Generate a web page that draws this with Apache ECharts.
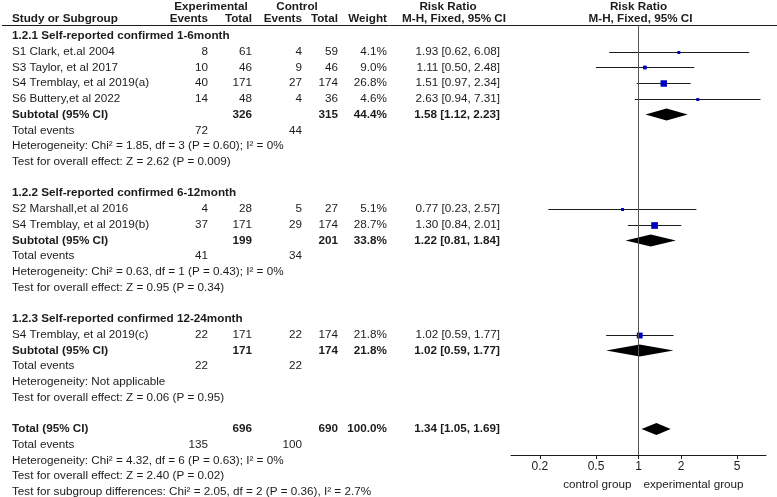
<!doctype html>
<html lang="en">
<head>
<meta charset="utf-8">
<title>Forest plot</title>
<script src="https://cdn.jsdelivr.net/npm/echarts@6/dist/echarts.min.js"></script>
<style>
  html, body { margin: 0; padding: 0; background: #fff; }
  #main { width: 777px; height: 497px; }
</style>
</head>
<body>
<div id="main"></div>
<script>
// ---- data ----
var groupNames = ['1.2.1 Self-reported confirmed 1-6month',
                  '1.2.2 Self-reported confirmed 6-12month',
                  '1.2.3 Self-reported confirmed 12-24month'];
var groupSize = [4, 2, 1];

var studies = ['S1 Clark, et.al 2004', 'S3 Taylor, et al 2017', 'S4 Tremblay, et al 2019(a)',
               'S6 Buttery,et al 2022', 'S2 Marshall,et al 2016', 'S4 Tremblay, et al 2019(b)',
               'S4 Tremblay, et al 2019(c)'];
var expEvents  = [8, 10, 40, 14, 4, 37, 22];
var expTotal   = [61, 46, 171, 48, 28, 171, 171];
var ctrlEvents = [4, 9, 27, 4, 5, 29, 22];
var ctrlTotal  = [59, 46, 174, 36, 27, 174, 174];
var weights    = [4.1, 9.0, 26.8, 4.6, 5.1, 28.7, 21.8];
var rr   = [1.93, 1.11, 1.51, 2.63, 0.77, 1.30, 1.02];
var rrLo = [0.62, 0.50, 0.97, 0.94, 0.23, 0.84, 0.59];
var rrHi = [6.08, 2.48, 2.34, 7.31, 2.57, 2.01, 1.77];

var subExpTotal  = [326, 199, 171];
var subCtrlTotal = [315, 201, 174];
var subWeight    = [44.4, 33.8, 21.8];
var subRR   = [1.58, 1.22, 1.02];
var subLo   = [1.12, 0.81, 0.59];
var subHi   = [2.23, 1.84, 1.77];
var subExpEvents  = [72, 41, 22];
var subCtrlEvents = [44, 34, 22];
var subHetero = ['Heterogeneity: Chi² = 1.85, df = 3 (P = 0.60); I² = 0%',
                 'Heterogeneity: Chi² = 0.63, df = 1 (P = 0.43); I² = 0%',
                 'Heterogeneity: Not applicable'];
var subEffect = ['Test for overall effect: Z = 2.62 (P = 0.009)',
                 'Test for overall effect: Z = 0.95 (P = 0.34)',
                 'Test for overall effect: Z = 0.06 (P = 0.95)'];

var totExpTotal = 696, totCtrlTotal = 690, totWeight = 100.0;
var totRR = 1.34, totLo = 1.05, totHi = 1.69;
var totExpEvents = 135, totCtrlEvents = 100;
var totNotes = ['Heterogeneity: Chi² = 4.32, df = 6 (P = 0.63); I² = 0%',
                'Test for overall effect: Z = 2.40 (P = 0.02)',
                'Test for subgroup differences: Chi² = 2.05, df = 2 (P = 0.36), I² = 2.7%'];

var tickValues = [0.2, 0.5, 1, 2, 5];
var axisRange = [0.125, 8];

// ---- helpers ----
function lg(v) { return Math.log(v) / Math.LN10; }
function ci(m, a, b) { return m.toFixed(2) + ' [' + a.toFixed(2) + ', ' + b.toFixed(2) + ']'; }

var FONT = '"Liberation Sans", Arial, sans-serif';
var INK = '#1c1c1c';
var FS = 11.7;

// columns (right edges unless noted)
var COL = { name: 12, ee: 208, et: 252, ce: 302, ct: 338, w: 387, rr: 500 };

// build the table rows
var rows = [];
var studyData = [];
var diamondData = [];
var r = 0, s = 0;
groupNames.forEach(function (g, gi) {
    rows.push({ row: r, cells: [{ x: COL.name, text: g, bold: true }] });
    r++;
    for (var k = 0; k < groupSize[gi]; k++, s++, r++) {
        rows.push({ row: r, cells: [
            { x: COL.name, text: studies[s] },
            { x: COL.ee, text: String(expEvents[s]), align: 'right' },
            { x: COL.et, text: String(expTotal[s]), align: 'right' },
            { x: COL.ce, text: String(ctrlEvents[s]), align: 'right' },
            { x: COL.ct, text: String(ctrlTotal[s]), align: 'right' },
            { x: COL.w, text: weights[s].toFixed(1) + '%', align: 'right' },
            { x: COL.rr, text: ci(rr[s], rrLo[s], rrHi[s]), align: 'right' }
        ]});
        studyData.push([r, lg(rr[s]), lg(rrLo[s]), lg(rrHi[s]), weights[s]]);
    }
    rows.push({ row: r, cells: [
        { x: COL.name, text: 'Subtotal (95% CI)', bold: true },
        { x: COL.et, text: String(subExpTotal[gi]), align: 'right', bold: true },
        { x: COL.ct, text: String(subCtrlTotal[gi]), align: 'right', bold: true },
        { x: COL.w, text: subWeight[gi].toFixed(1) + '%', align: 'right', bold: true },
        { x: COL.rr, text: ci(subRR[gi], subLo[gi], subHi[gi]), align: 'right', bold: true }
    ]});
    diamondData.push([r, lg(subRR[gi]), lg(subLo[gi]), lg(subHi[gi])]);
    r++;
    rows.push({ row: r, cells: [
        { x: COL.name, text: 'Total events' },
        { x: COL.ee, text: String(subExpEvents[gi]), align: 'right' },
        { x: COL.ce, text: String(subCtrlEvents[gi]), align: 'right' }
    ]});
    r++;
    rows.push({ row: r++, cells: [{ x: COL.name, text: subHetero[gi] }] });
    rows.push({ row: r++, cells: [{ x: COL.name, text: subEffect[gi] }] });
    r++; // blank line
});
rows.push({ row: r, cells: [
    { x: COL.name, text: 'Total (95% CI)', bold: true },
    { x: COL.et, text: String(totExpTotal), align: 'right', bold: true },
    { x: COL.ct, text: String(totCtrlTotal), align: 'right', bold: true },
    { x: COL.w, text: totWeight.toFixed(1) + '%', align: 'right', bold: true },
    { x: COL.rr, text: ci(totRR, totLo, totHi), align: 'right', bold: true }
]});
diamondData.push([r, lg(totRR), lg(totLo), lg(totHi)]);
r++;
rows.push({ row: r++, cells: [
    { x: COL.name, text: 'Total events' },
    { x: COL.ee, text: String(totExpEvents), align: 'right' },
    { x: COL.ce, text: String(totCtrlEvents), align: 'right' }
]});
totNotes.forEach(function (t) { rows.push({ row: r++, cells: [{ x: COL.name, text: t }] }); });

var myChart = echarts.init(document.getElementById('main'));

var option = {
    animation: false,
    backgroundColor: '#fff',
    textStyle: { fontFamily: FONT },
    grid: { left: 511, right: 11, top: 25, bottom: 42 },
    xAxis: {
        type: 'value',
        position: 'bottom',
        min: lg(axisRange[0]),
        max: lg(axisRange[1]),
        splitLine: { show: false },
        axisLine: { show: true, onZero: false, lineStyle: { color: INK, width: 1 } },
        axisTick: { show: true, length: 4, lineStyle: { color: INK },
                    customValues: tickValues.map(lg) },
        axisLabel: { color: INK, fontSize: 12, fontFamily: FONT, margin: 6,
                     customValues: tickValues.map(lg),
                     formatter: function (v) { return String(Math.round(Math.pow(10, v) * 10) / 10); } }
    },
    yAxis: { type: 'value', inverse: true, min: -0.7, max: 26.65, show: false },
    series: [
        {
            type: 'custom',
            name: 'studies',
            data: studyData,
            encode: { x: [1, 2, 3], y: 0 },
            renderItem: function (params, api) {
                var row = api.value(0);
                var p = api.coord([api.value(1), row]);
                var a = api.coord([api.value(2), row]);
                var b = api.coord([api.value(3), row]);
                var sz = Math.max(3, 1.25 * Math.sqrt(api.value(4)));
                var y = Math.round(p[1]) + 0.5;
                return { type: 'group', children: [
                    { type: 'line', shape: { x1: a[0], y1: y, x2: b[0], y2: y },
                      style: { stroke: INK, lineWidth: 1 } },
                    { type: 'rect', shape: { x: p[0] - sz / 2, y: y - sz / 2, width: sz, height: sz },
                      style: { fill: '#0000c0' } }
                ]};
            },
            markLine: {
                silent: true, symbol: 'none', label: { show: false },
                lineStyle: { color: '#555', type: 'solid', width: 1 },
                data: [{ xAxis: 0 }]
            },
            z: 3
        },
        {
            type: 'custom',
            name: 'pooled',
            data: diamondData,
            encode: { x: [1, 2, 3], y: 0 },
            renderItem: function (params, api) {
                var row = api.value(0);
                var p = api.coord([api.value(1), row]);
                var a = api.coord([api.value(2), row]);
                var b = api.coord([api.value(3), row]);
                var h = 6;
                return { type: 'polygon',
                    shape: { points: [[a[0], p[1]], [p[0], p[1] - h], [b[0], p[1]], [p[0], p[1] + h]] },
                    style: { fill: '#000' } };
            },
            z: 4
        }
    ]
};
myChart.setOption(option);

// table text, placed on the same row scale as the plot
function rowY(i) { return myChart.convertToPixel({ yAxisIndex: 0 }, i); }
function txt(x, y, text, align, bold) {
    return { type: 'text', x: x, y: y, silent: true,
        style: { text: text, fill: INK, font: (bold ? 'bold ' : '') + FS + 'px ' + FONT,
                 textAlign: align || 'left', textVerticalAlign: 'middle' } };
}
var graphics = [];
rows.forEach(function (rw) {
    var y = rowY(rw.row);
    rw.cells.forEach(function (c) { graphics.push(txt(c.x, y, c.text, c.align, c.bold)); });
});
var x1 = myChart.convertToPixel({ xAxisIndex: 0 }, 0);
// headers
graphics.push(txt(211, 7, 'Experimental', 'center', true));
graphics.push(txt(297, 7, 'Control', 'center', true));
graphics.push(txt(448, 7, 'Risk Ratio', 'center', true));
graphics.push(txt(x1, 7, 'Risk Ratio', 'center', true));
graphics.push(txt(COL.name, 19, 'Study or Subgroup', 'left', true));
graphics.push(txt(COL.ee, 19, 'Events', 'right', true));
graphics.push(txt(COL.et, 19, 'Total', 'right', true));
graphics.push(txt(COL.ce, 19, 'Events', 'right', true));
graphics.push(txt(COL.ct, 19, 'Total', 'right', true));
graphics.push(txt(COL.w, 19, 'Weight', 'right', true));
graphics.push(txt(454, 19, 'M-H, Fixed, 95% CI', 'center', true));
graphics.push(txt(x1 + 2, 19, 'M-H, Fixed, 95% CI', 'center', true));
graphics.push({ type: 'line', silent: true, shape: { x1: 2, y1: 25.5, x2: 777, y2: 25.5 },
                style: { stroke: INK, lineWidth: 1 } });
// axis direction captions
graphics.push(txt(x1 - 7, 485, 'control group', 'right', false));
graphics.push(txt(x1 + 5, 485, 'experimental group', 'left', false));

myChart.setOption({ graphic: graphics });
</script>
</body>
</html>
